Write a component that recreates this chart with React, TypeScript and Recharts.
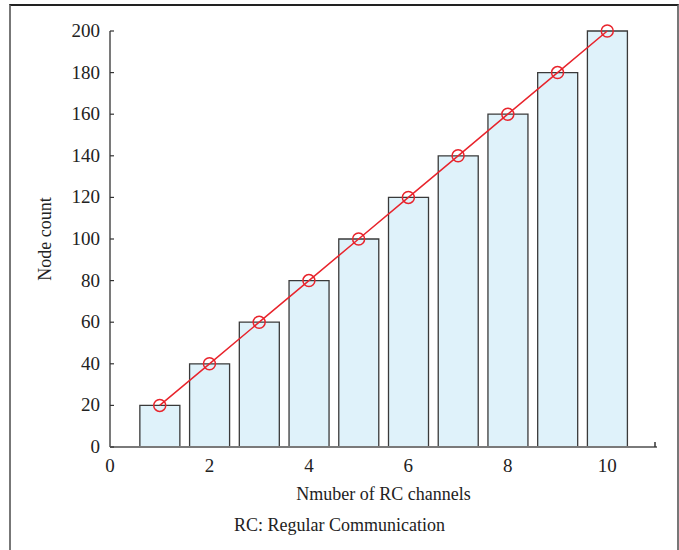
import { Bar, ComposedChart, Label, Line, XAxis, YAxis } from 'recharts';

const channels = [1, 2, 3, 4, 5, 6, 7, 8, 9, 10];
const nodeCounts = [20, 40, 60, 80, 100, 120, 140, 160, 180, 200];
const xTicks = [0, 2, 4, 6, 8, 10, 11];
const yTicks = [0, 20, 40, 60, 80, 100, 120, 140, 160, 180, 200];

const data = channels.map((c, i) => ({ channels: c, nodes: nodeCounts[i] }));

const font = '"Liberation Serif", "DejaVu Serif", serif';
const axisGray = '#7a7a7a';
const red = '#e8242c';

const XTick = ({ x, y, payload }: any) => {
  if (payload.value === 11) {
    return <line x1={x - 2} y1={y} x2={x - 2} y2={y - 5} stroke="#333" strokeWidth={1.5} />;
  }
  return (
    <text x={x} y={y + 25} textAnchor="middle" fontSize={19} fontFamily={font} fill="#222">
      {payload.value}
    </text>
  );
};

const YTick = ({ x, y, payload }: any) => (
  <g>
    <line x1={x} y1={y} x2={x + 4} y2={y} stroke="#333" strokeWidth={1.2} />
    <text x={x - 10} y={y + 6} textAnchor="end" fontSize={19} fontFamily={font} fill="#222">
      {payload.value}
    </text>
  </g>
);

export default function App() {
  return (
    <div style={{ position: 'absolute', left: 0, top: 0, width: 679, height: 550, background: '#fff' }}>
      <div
        style={{
          position: 'absolute',
          left: 9,
          top: 4,
          width: 666,
          height: 560,
          borderTop: '2px solid #222',
          borderLeft: '2px solid #777',
          borderRight: '2px solid #777',
        }}
      />
      <ComposedChart
        width={679}
        height={550}
        data={data}
        margin={{ top: 31, right: 22, bottom: 73, left: 0 }}
        style={{ position: 'absolute', left: 0, top: 0 }}
      >
        <XAxis
          dataKey="channels"
          type="number"
          domain={[0, 11]}
          ticks={xTicks}
          interval={0}
          tickSize={0}
          tickMargin={0}
          tickLine={false}
          tick={<XTick />}
          height={30}
          axisLine={{ stroke: axisGray, strokeWidth: 2 }}
        >
          <Label
            value="Nmuber of RC channels"
            position="bottom"
            offset={10}
            fontSize={18}
            fontFamily={font}
            fill="#222"
          />
        </XAxis>
        <YAxis
          type="number"
          domain={[0, 200]}
          ticks={yTicks}
          interval={0}
          width={110}
          tickSize={0}
          tickMargin={0}
          tickLine={false}
          tick={<YTick />}
          axisLine={{ stroke: axisGray, strokeWidth: 2 }}
        >
          <Label
            value="Node count"
            angle={-90}
            position="insideLeft"
            offset={0}
            dx={45}
            fontSize={18}
            fontFamily={font}
            fill="#222"
            style={{ textAnchor: 'middle' }}
          />
        </YAxis>
        <Bar
          dataKey="nodes"
          barSize={40}
          fill="#dff2fa"
          stroke="#3a3a3a"
          strokeWidth={1.3}
          isAnimationActive={false}
        />
        <Line
          dataKey="nodes"
          type="linear"
          stroke={red}
          strokeWidth={1.5}
          dot={{ r: 6, fill: 'none', stroke: red, strokeWidth: 1.5 }}
          activeDot={false}
          isAnimationActive={false}
        />
      </ComposedChart>
      <div
        style={{
          position: 'absolute',
          left: 0,
          width: 679,
          top: 515,
          textAlign: 'center',
          fontFamily: font,
          fontSize: 18,
          color: '#222',
        }}
      >
        RC: Regular Communication
      </div>
    </div>
  );
}
